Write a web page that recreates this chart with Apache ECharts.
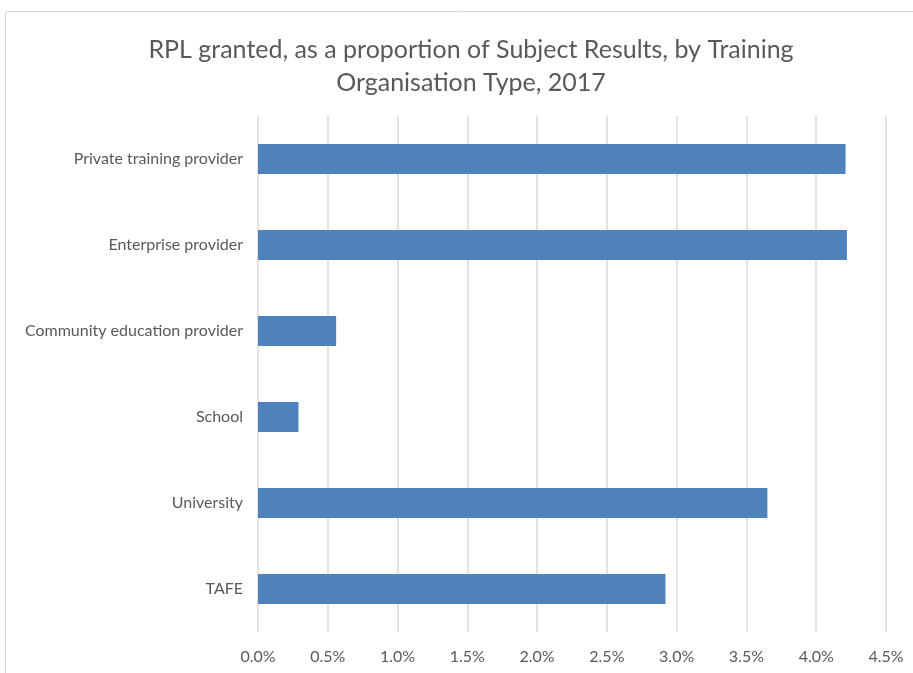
<!DOCTYPE html>
<html>
<head>
<meta charset="utf-8">
<script src="https://cdn.jsdelivr.net/npm/echarts@6/dist/echarts.min.js"></script>
<style>
  html, body { margin: 0; padding: 0; background: #fff; }
  #chart { width: 913px; height: 673px; }
</style>
</head>
<body>
<div id="chart"></div>
<script>
// categories top to bottom
const categories = ['Private training provider', 'Enterprise provider', 'Community education provider', 'School', 'University', 'TAFE'];
// RPL granted (%)
const rplShare = [4.21, 4.22, 0.56, 0.29, 3.65, 2.92];
const xMax = 4.5;
const xStep = 0.5;

const chart = echarts.init(document.getElementById('chart'));

const option = {
    backgroundColor: '#fff',
    animation: false,
    title: {
        text: 'RPL granted, as a proportion of Subject Results, by Training\nOrganisation Type, 2017',
        left: 466,
        textAlign: 'center',
        top: 28,
        textStyle: {
            fontFamily: 'Lato',
            fontWeight: 'normal',
            fontSize: 25,
            color: '#595959',
            lineHeight: 33
        }
    },
    graphic: [
        {
            type: 'rect',
            shape: { x: 5.5, y: 11.5, width: 940, height: 680 },
            style: { fill: 'none', stroke: '#d9d9d9', lineWidth: 1 },
            silent: true
        }
    ],
    grid: {
        left: 258,
        right: 27,
        top: 116,
        bottom: 41,
        containLabel: false
    },
    xAxis: {
        type: 'value',
        min: 0,
        max: xMax,
        interval: xStep,
        axisLine: { show: false },
        axisTick: { show: false },
        axisLabel: {
            formatter: v => v.toFixed(1) + '%',
            fontFamily: 'Lato',
            fontSize: 16,
            color: '#595959',
            margin: 17
        },
        splitLine: { lineStyle: { color: '#d9d9d9', width: 1.5 } }
    },
    yAxis: {
        type: 'category',
        data: categories,
        inverse: true,
        axisLine: { show: false },
        axisTick: { show: false },
        axisLabel: {
            fontFamily: 'Lato',
            fontSize: 16,
            color: '#595959',
            margin: 15
        }
    },
    series: [
        {
            type: 'bar',
            data: rplShare,
            barWidth: '35%',
            itemStyle: { color: '#4f81bd' }
        }
    ]
};

chart.setOption(option);
</script>
</body>
</html>
